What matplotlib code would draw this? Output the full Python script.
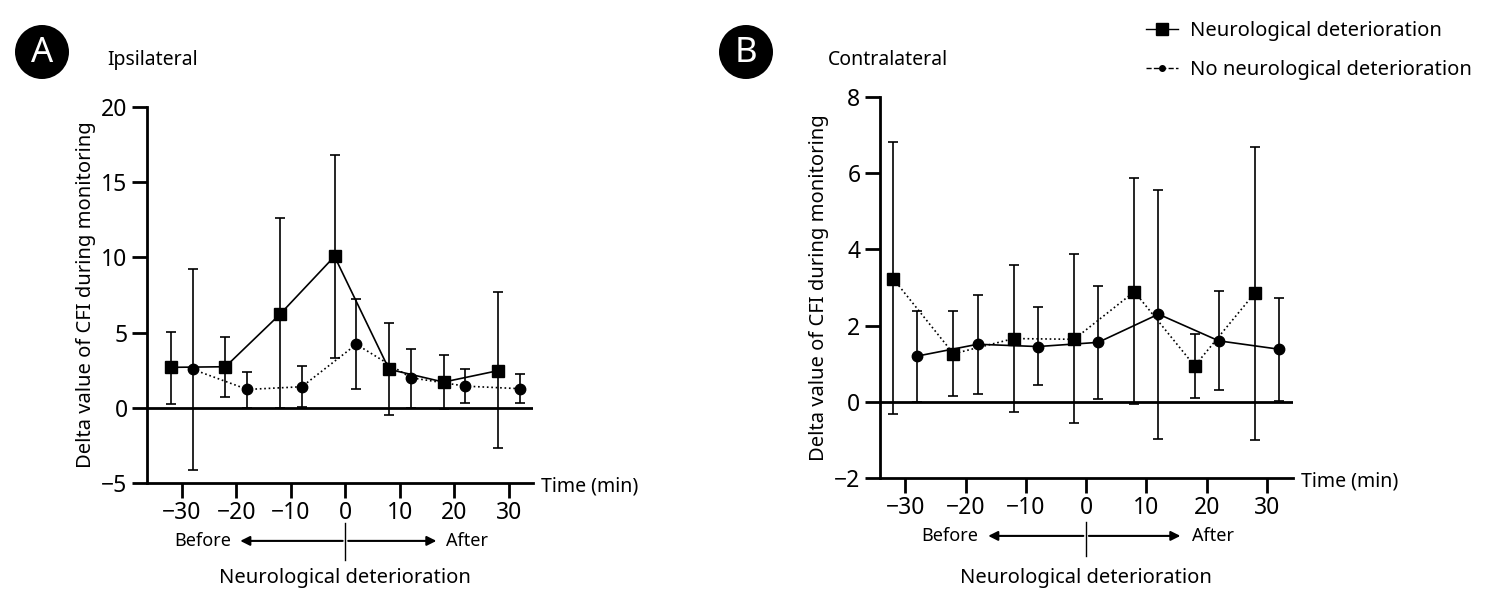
import matplotlib
matplotlib.use("Agg")
import matplotlib.pyplot as plt
from matplotlib.lines import Line2D
from matplotlib.patches import Circle
import numpy as np

plt.rcParams['font.family'] = ['Noto Sans', 'DejaVu Sans']

# time points (min); the two groups are drawn slightly shifted
times = [-30, -20, -10, 0, 10, 20, 30]
x_nd = [-32, -22, -12, -2, 8, 18, 28]      # neurological deterioration
x_no = [-28, -18, -8, 2, 12, 22, 32]       # no neurological deterioration

# Panel A - ipsilateral
ipsi_nd_mean = [2.69, 2.73, 6.22, 10.07, 2.56, 1.71, 2.47]
ipsi_nd_low = [0.22, 0.73, 0.0, 3.29, -0.51, -0.11, -2.67]
ipsi_nd_high = [5.07, 4.73, 12.62, 16.84, 5.67, 3.51, 7.67]
ipsi_no_mean = [2.56, 1.22, 1.40, 4.22, 2.00, 1.44, 1.27]
ipsi_no_low = [-4.11, 0.0, 0.07, 1.22, 0.0, 0.33, 0.33]
ipsi_no_high = [9.22, 2.40, 2.78, 7.22, 3.93, 2.56, 2.22]

# Panel B - contralateral
contra_nd_mean = [3.23, 1.26, 1.66, 1.64, 2.89, 0.94, 2.86]
contra_nd_low = [-0.33, 0.15, -0.27, -0.56, -0.07, 0.09, -1.01]
contra_nd_high = [6.81, 2.37, 3.60, 3.88, 5.87, 1.78, 6.70]
contra_no_mean = [1.20, 1.51, 1.45, 1.56, 2.30, 1.60, 1.38]
contra_no_low = [0.0, 0.21, 0.43, 0.07, -0.97, 0.31, 0.02]
contra_no_high = [2.39, 2.79, 2.48, 3.05, 5.56, 2.91, 2.72]


def errs(mean, low, high):
    m = np.array(mean)
    return [m - np.array(low), np.array(high) - m]


def lbl(t):
    return str(t).replace('-', '\u2212')


fig = plt.figure(figsize=(14.98, 6.10), dpi=100)
axA = fig.add_axes([0.0981, 0.2082, 0.2577, 0.6164])
axB = fig.add_axes([0.5874, 0.2164, 0.2757, 0.6246])


def draw_panel(ax, nd, no, nd_ls, no_ls, ylim, yticks, xlim, arr_l, arr_r, txt_l, txt_r, ytxt):
    ax.errorbar(x_nd, nd[0], yerr=errs(*nd), color='black', ls=nd_ls, lw=1.2,
                marker='s', ms=8, capsize=3.5, elinewidth=1.2, capthick=1.2, zorder=3)
    ax.errorbar(x_no, no[0], yerr=errs(*no), color='black', ls=no_ls, lw=1.2,
                marker='o', ms=7.5, capsize=3.5, elinewidth=1.2, capthick=1.2, zorder=3)
    ax.axhline(0, color='black', lw=2, zorder=2)
    ax.set_xlim(*xlim)
    ax.set_ylim(*ylim)
    ax.set_yticks(yticks)
    ax.set_yticklabels([lbl(t) for t in yticks])
    ax.set_xticks(times)
    ax.set_xticklabels([lbl(t) for t in times])
    for s in ['top', 'right']:
        ax.spines[s].set_visible(False)
    for s in ['left', 'bottom']:
        ax.spines[s].set_linewidth(2)
    ax.tick_params(axis='both', direction='out', length=11, width=2, labelsize=16.5)
    ax.tick_params(axis='y', pad=3)
    ax.tick_params(axis='x', pad=2)
    ax.set_ylabel('Delta value of CFI during monitoring', fontsize=14.5, labelpad=4)
    ax.text(1.02, -0.01, 'Time (min)', transform=ax.transAxes, fontsize=14,
            ha='left', va='center')
    tr = ('data', 'axes fraction')
    ax.annotate('', xy=(arr_l, ytxt[0]), xytext=(0, ytxt[0]), xycoords=tr, textcoords=tr,
                arrowprops=dict(arrowstyle='-|>', color='black', lw=1.5, mutation_scale=14),
                annotation_clip=False)
    ax.annotate('', xy=(arr_r, ytxt[0]), xytext=(0, ytxt[0]), xycoords=tr, textcoords=tr,
                arrowprops=dict(arrowstyle='-|>', color='black', lw=1.5, mutation_scale=14),
                annotation_clip=False)
    ax.plot([0, 0], [ytxt[1], ytxt[2]], color='black', lw=1, transform=ax.get_xaxis_transform(),
            clip_on=False)
    ax.text(txt_l, ytxt[0], 'Before', transform=ax.get_xaxis_transform(), fontsize=13,
            ha='right', va='center')
    ax.text(txt_r, ytxt[0], 'After', transform=ax.get_xaxis_transform(), fontsize=13,
            ha='left', va='center')
    ax.text(0, ytxt[3], 'Neurological deterioration', transform=ax.get_xaxis_transform(),
            fontsize=14.5, ha='center', va='center')


draw_panel(axA,
           (ipsi_nd_mean, ipsi_nd_low, ipsi_nd_high),
           (ipsi_no_mean, ipsi_no_low, ipsi_no_high),
           '-', ':', (-5, 20), [-5, 0, 5, 10, 15, 20], (-36.4, 34.4),
           -19.8, 17.2, -20.9, 18.5, (-0.154, -0.106, -0.205, -0.253))
draw_panel(axB,
           (contra_nd_mean, contra_nd_low, contra_nd_high),
           (contra_no_mean, contra_no_low, contra_no_high),
           ':', '-', (-2, 8), [-2, 0, 2, 4, 6, 8], (-34.2, 34.3),
           -16.7, 16.1, -17.9, 17.6, (-0.152, -0.115, -0.205, -0.262))

# panel badges
H = 6.10
for cx, letter, title, tx in [(42, 'A', 'Ipsilateral', 107), (746, 'B', 'Contralateral', 828)]:
    fig.patches.append(Circle((cx / 100, H - 52 / 100), 0.27, transform=fig.dpi_scale_trans,
                              facecolor='black', edgecolor='none'))
    fig.text(cx / 1498, 1 - 53 / 610, letter, color='white', fontsize=25, fontweight='bold',
             ha='center', va='center')
    fig.text(tx / 1498, 1 - 60 / 610, title, fontsize=14, ha='left', va='center')

handles = [Line2D([], [], color='black', ls='-', lw=1, marker='s', ms=8),
           Line2D([], [], color='black', ls='--', lw=1, marker='o', ms=4)]
fig.legend(handles, ['Neurological deterioration', 'No neurological deterioration'],
           loc='upper left', bbox_to_anchor=(1128 / 1498, 1 - 3 / 610), frameon=False,
           fontsize=14.5, handlelength=1.6, labelspacing=0.95, handletextpad=0.6)

fig.savefig('out.png', dpi=100)
